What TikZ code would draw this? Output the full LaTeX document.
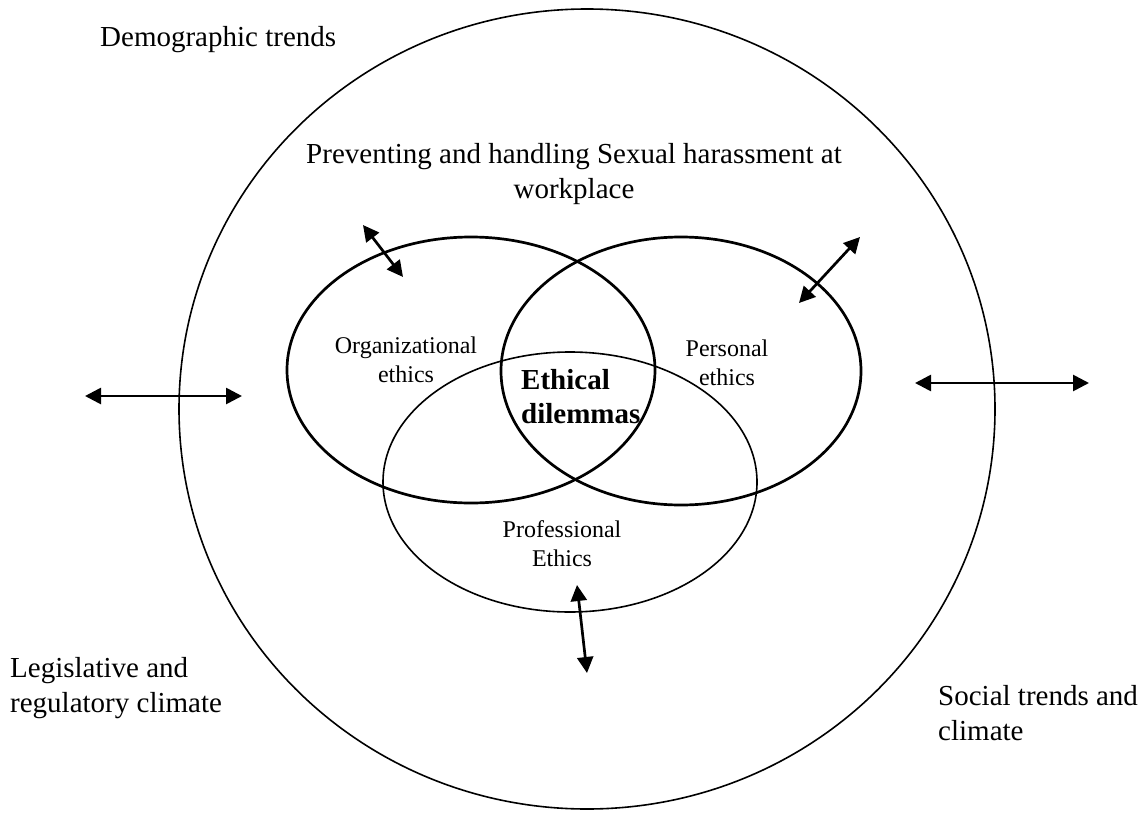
\documentclass[tikz,border=0pt]{standalone}
\usepackage{fontspec}
\setmainfont{Liberation Serif}
\usetikzlibrary{arrows.meta}
\begin{document}
\begin{tikzpicture}[x=1pt,y=-1pt,
  bigtext/.style={font=\fontsize{29}{35}\selectfont, inner sep=0pt, align=left},
  smalltext/.style={font=\fontsize{24}{29}\selectfont, inner sep=0pt, align=center},
  boldtext/.style={font=\fontsize{29}{34}\selectfont\bfseries, inner sep=0pt, align=left},
  dblarrow/.style={line width=2.7pt, {Triangle[length=16pt,width=16pt]}-{Triangle[length=16pt,width=16pt]}},
  thickring/.style={line width=2.7pt},
  thinring/.style={line width=1.6pt}]
\useasboundingbox (0,0) rectangle (1145,816);
% outer circle
\coordinate (outerc) at (587,409);
\draw[thinring] (outerc) ellipse [x radius=408, y radius=400];
% three ellipses
\coordinate (orgc) at (471,370);
\coordinate (perc) at (681,371);
\coordinate (proc) at (570,482);
\draw[thinring] (proc) ellipse [x radius=187, y radius=130];
\draw[thickring] (orgc) ellipse [x radius=184, y radius=133];
\draw[thickring] (perc) ellipse [x radius=180, y radius=134];
% texts (anchor base = baseline of the last line)
\node[bigtext, anchor=base west] (demo) at (100,47) {Demographic trends};
\node[bigtext, align=center, anchor=base] (title) at (574,198) {Preventing and handling Sexual harassment at\\workplace};
\node[smalltext, anchor=base] (org) at (406,382) {Organizational\\ethics};
\node[smalltext, anchor=base] (per) at (727,385) {Personal\\ethics};
\node[smalltext, anchor=base] (pro) at (562,566) {Professional\\Ethics};
\node[boldtext, anchor=base west] (eth) at (521,423) {Ethical\\dilemmas};
\node[bigtext, anchor=base west] (leg) at (10,712) {Legislative and\\regulatory climate};
\node[bigtext, anchor=base west] (soc) at (938,740) {Social trends and\\climate};
% arrows
\coordinate (a1s) at (363,225); \coordinate (a1e) at (403,277);
\coordinate (a2s) at (860,237); \coordinate (a2e) at (799,303);
\coordinate (a3s) at (85,396);  \coordinate (a3e) at (242,396);
\coordinate (a4s) at (915,383); \coordinate (a4e) at (1089,383);
\coordinate (a5s) at (577,585); \coordinate (a5e) at (587,673);
\draw[dblarrow] (a1s) -- (a1e);
\draw[dblarrow] (a2s) -- (a2e);
\draw[dblarrow] (a3s) -- (a3e);
\draw[dblarrow] (a4s) -- (a4e);
\draw[dblarrow] (a5s) -- (a5e);
\end{tikzpicture}
\end{document}
